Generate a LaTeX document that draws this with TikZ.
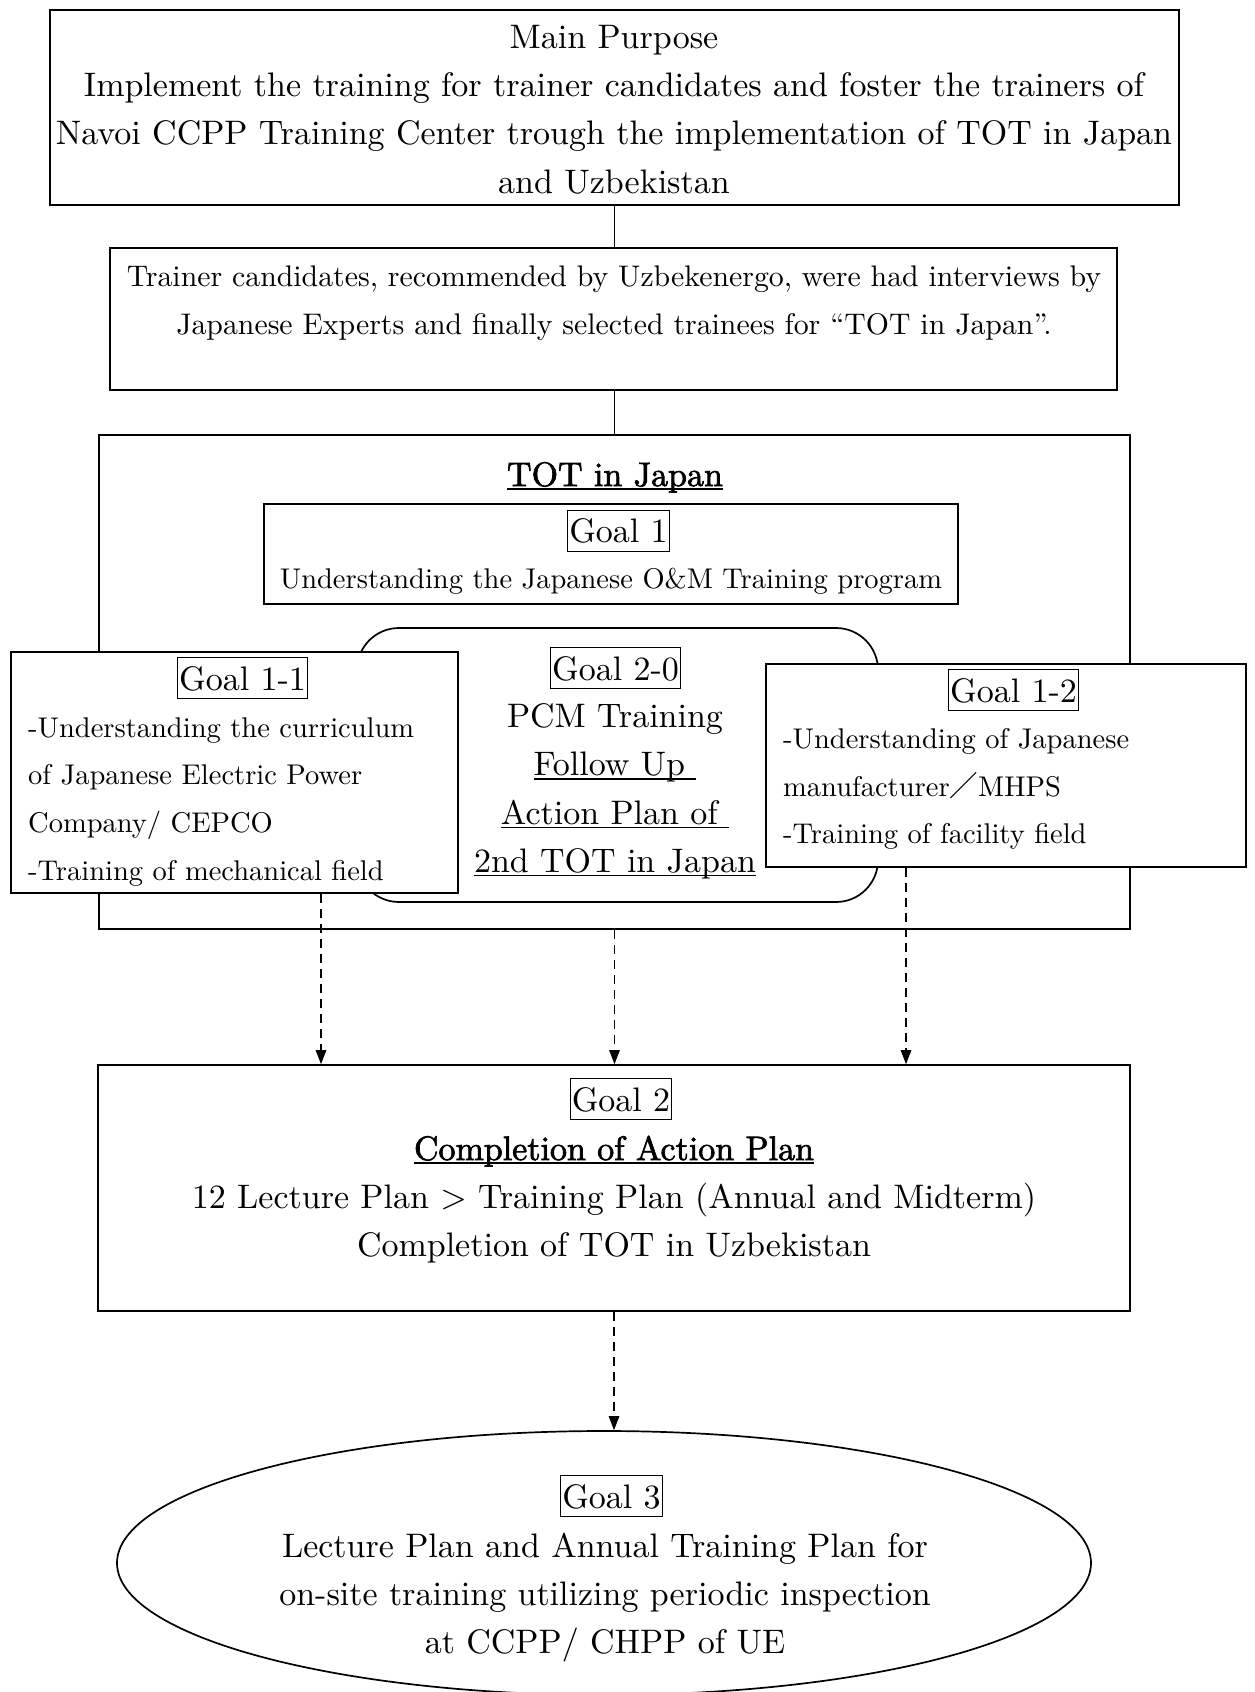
\documentclass[tikz,border=0pt]{standalone}
\usepackage{fontspec}
\setmainfont{lmroman10-regular.otf}
\newfontfamily\heavy{lmroman10-regular.otf}[FakeBold=2]
\newfontfamily\cjkfont{Noto Sans CJK JP}
\usetikzlibrary{arrows.meta,shapes.geometric}
\newcommand\bigtext{\fontsize{34}{48.2}\selectfont}
\newcommand\smalltext{\fontsize{28.5}{47.7}\selectfont}
\newcommand\midtext{\fontsize{29.8}{47.7}\selectfont}
% underline at a fixed depth below the baseline (descenders cross it)
\newcommand\ulbox[1]{\setbox0\hbox{#1}\rlap{\rule[-4pt]{\wd0}{1.6pt}}\box0}
\begin{document}
\begin{tikzpicture}[x=1pt,y=-1pt,
  box/.style={draw, line width=1.7pt, fill=white, inner sep=0pt},
  lbl/.style={draw, line width=1.3pt, inner xsep=1.5pt, inner ysep=0pt,
              text height=32.5pt, text depth=8.5pt, font=\bigtext},
  txtbig/.style={inner sep=0pt, align=center, font=\bigtext},
  txtsmall/.style={inner sep=0pt, font=\smalltext},
  link/.style={line width=1.1pt},
  dasharrow/.style={line width=1.1pt, dash pattern=on 9pt off 6pt,
                    -{Triangle[length=14pt,width=10.5pt]}},
]
\useasboundingbox (0,0) rectangle (1254,1692);
\clip (0,0) rectangle (1254,1692);

% main purpose
\node[box, minimum width=1129pt, minimum height=195pt] (main) at (614.5,107.5) {};
\node[txtbig] (maintext) at (614,111.1) {\strut Main Purpose\\Implement the training for trainer candidates and foster the trainers of\\Navoi CCPP Training Center trough the implementation of TOT in Japan\\and Uzbekistan\strut};

% selection of trainees
\node[box, minimum width=1007pt, minimum height=142pt] (sel) at (613.5,319) {};
\node[txtsmall, align=center, font=\midtext] (seltext) at (614,301.2) {\strut Trainer candidates, recommended by Uzbekenergo, were had interviews by\\Japanese Experts and finally selected trainees for “TOT in Japan”.\strut};

% TOT in Japan frame
\node[box, minimum width=1031pt, minimum height=494pt] (tot) at (614.5,682) {};
\node[txtbig] (tottitle) at (615,476.4) {\strut\ulbox{\heavy TOT in Japan}};

% goal 1
\node[box, minimum width=694pt, minimum height=100pt] (g1) at (611,554) {};
\node[lbl] (g1lbl) at (618.5,530.7) {Goal 1\ };
\node[txtsmall] (g1text) at (611,578.8) {\strut Understanding the Japanese O\&M Training program};

% goal 2-0
\node[box, rounded corners=42pt, minimum width=521pt, minimum height=274pt] (g20) at (617.5,765) {};
\node[lbl] (g20lbl) at (615.5,668) {Goal 2-0};
\node[txtbig] (g20text) at (615,790.4) {\strut PCM Training\\\ulbox{Follow Up\ }\\\ulbox{Action Plan of\ }\\\ulbox{2nd TOT in Japan}\strut};

% goal 1-1
\node[box, minimum width=447pt, minimum height=241pt] (g11) at (234.5,772.5) {};
\node[lbl] (g11lbl) at (242.5,678) {Goal 1-1\ };
\node[txtsmall, align=left, anchor=west] (g11text) at (28,799) {\strut-Understanding the curriculum\\of Japanese Electric Power\\Company/ CEPCO\\-Training of mechanical field\strut};

% goal 1-2
\node[box, minimum width=480pt, minimum height=203pt] (g12) at (1006,765.5) {};
\node[lbl] (g12lbl) at (1013.5,690) {Goal 1-2\ };
\node[txtsmall, align=left, anchor=west] (g12text) at (783,786.5) {\strut-Understanding of Japanese\\manufacturer{\cjkfont ／}MHPS\\-Training of facility field\strut};

% goal 2
\node[box, minimum width=1032pt, minimum height=246pt] (g2) at (614,1188) {};
\node[lbl] (g2lbl) at (621,1099) {Goal 2\ };
\node[txtbig] (g2text) at (614,1198.6) {\strut\ulbox{\heavy Completion of Action Plan}\\12 Lecture Plan > Training Plan (Annual and Midterm)\\Completion of TOT in Uzbekistan\strut};

% goal 3
\node[draw, ellipse, line width=1.7pt, minimum width=974pt, minimum height=264pt, inner sep=0pt] (g3) at (604,1563) {};
\node[lbl] (g3lbl) at (611.5,1496) {Goal 3\ };
\node[txtbig] (g3text) at (605,1595.6) {\strut Lecture Plan and Annual Training Plan for\\on-site training utilizing periodic inspection\\at CCPP/ CHPP of UE\strut};

% connectors
\coordinate (xl) at (321,0);
\coordinate (xr) at (906,0);
\draw[link] (main.south) -- (main.south |- sel.north);
\draw[link] (main.south |- sel.south) -- (main.south |- tot.north);
\draw[dasharrow] (g11.south -| xl) -- (g2.north -| xl);
\draw[dasharrow] (tot.south) -- (g2.north -| tot.south);
\draw[dasharrow] (g12.south -| xr) -- (g2.north -| xr);
\draw[dasharrow] (g2.south) -- (g2.south |- g3.north);
\end{tikzpicture}
\end{document}
